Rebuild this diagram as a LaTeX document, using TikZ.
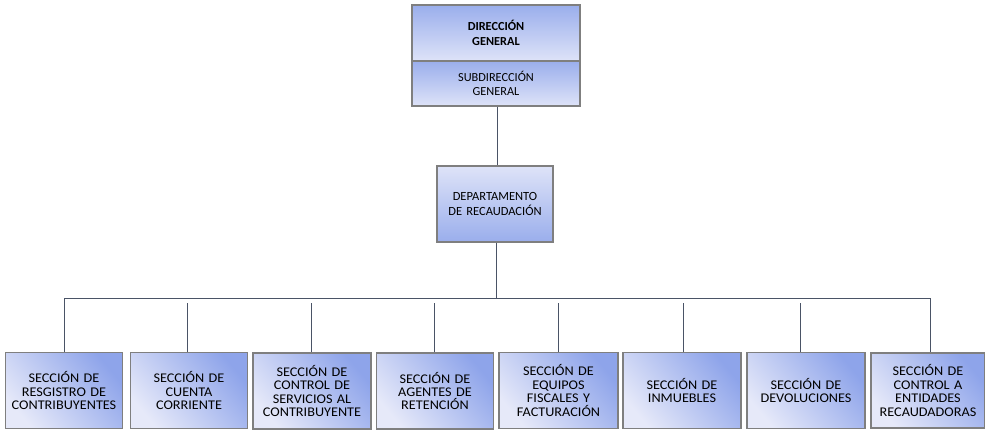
\documentclass[tikz,border=0pt]{standalone}
\usepackage{fontspec}
\setmainfont{Carlito}
\newfontfamily\secfont[FakeStretch=1.07]{Carlito}
\begin{document}
\begin{tikzpicture}[x=1pt,y=-1pt,
  base/.style={draw=boxborder, line width=1.2pt, rectangle, align=center, inner sep=1pt},
  topbox/.style={base, top color=topdark, bottom color=toplight, minimum width=168pt, text width=160pt},
  depbox/.style={base, top color=toplight, bottom color=topdark, minimum width=116pt, minimum height=76pt, text width=112pt},
  secbox/.style={base, top color=secdark, bottom color=seclight, shading angle=-50, minimum width=116pt, minimum height=76pt, text width=115pt,
     font=\secfont\fontsize{13.3}{13.4}\selectfont},
  conn/.style={draw=linecol, line width=1pt}
]
\definecolor{boxborder}{HTML}{7F7F7F}
\definecolor{topdark}{HTML}{9AAEEC}
\definecolor{toplight}{HTML}{DEE3F8}
\definecolor{secdark}{HTML}{8EA4EA}
\definecolor{seclight}{HTML}{E6E9F9}
\definecolor{linecol}{HTML}{4A5366}
\useasboundingbox (0,0) rectangle (985,432);

\node[topbox, minimum height=56pt, font=\bfseries\fontsize{12.3}{15}\selectfont] (dg) at (496,33) {DIRECCIÓN\\GENERAL};
\node[topbox, minimum height=45pt, font=\fontsize{12.3}{14.7}\selectfont] (sg) at (496,83.5) {SUBDIRECCIÓN\\GENERAL};
\node[depbox, font=\fontsize{12.5}{15}\selectfont] (dr) at (495,204) {DEPARTAMENTO\\DE RECAUDACIÓN};

\node[secbox] (s1) at (64,390.5) {SECCIÓN DE\\RESGISTRO DE\\CONTRIBUYENTES};
\node[secbox] (s2) at (189,390.5) {SECCIÓN DE\\CUENTA\\CORRIENTE};
\node[secbox, minimum width=118pt] (s3) at (312,391) {SECCIÓN DE\\CONTROL DE\\SERVICIOS AL\\CONTRIBUYENTE};
\node[secbox] (s4) at (435,391) {SECCIÓN DE\\AGENTES DE\\RETENCIÓN};
\node[secbox, minimum width=119pt] (s5) at (558.5,390.5) {SECCIÓN DE\\EQUIPOS\\FISCALES Y\\FACTURACIÓN};
\node[secbox, minimum width=118pt] (s6) at (682,390.5) {SECCIÓN DE\\INMUEBLES};
\node[secbox, minimum width=118pt] (s7) at (806,390.5) {SECCIÓN DE\\DEVOLUCIONES};
\node[secbox, minimum width=113pt, minimum height=75pt, text width=112pt] (s8) at (928,390.5) {SECCIÓN DE\\CONTROL A\\ENTIDADES\\RECAUDADORAS};

\coordinate (busL) at (64,298.5);
\coordinate (busR) at (930,298.5);
\coordinate (busM) at (496,298.5);
\coordinate (b2) at (187,303);
\coordinate (b3) at (311,303);
\coordinate (b4) at (434,303);
\coordinate (b5) at (558,303);
\coordinate (b6) at (683,303);
\coordinate (b7) at (800,303);

\draw[conn] (sg.south -| 497,0) -- (dr.north -| 497,0);
\draw[conn] (dr.south -| 496,0) -- (busM);
\draw[conn] (s1.north) -- (busL) -- (busR) -- (busR |- s8.north);
\foreach \i in {2,...,7} {\draw[conn] (b\i) -- (b\i |- s\i.north);}
\end{tikzpicture}
\end{document}
